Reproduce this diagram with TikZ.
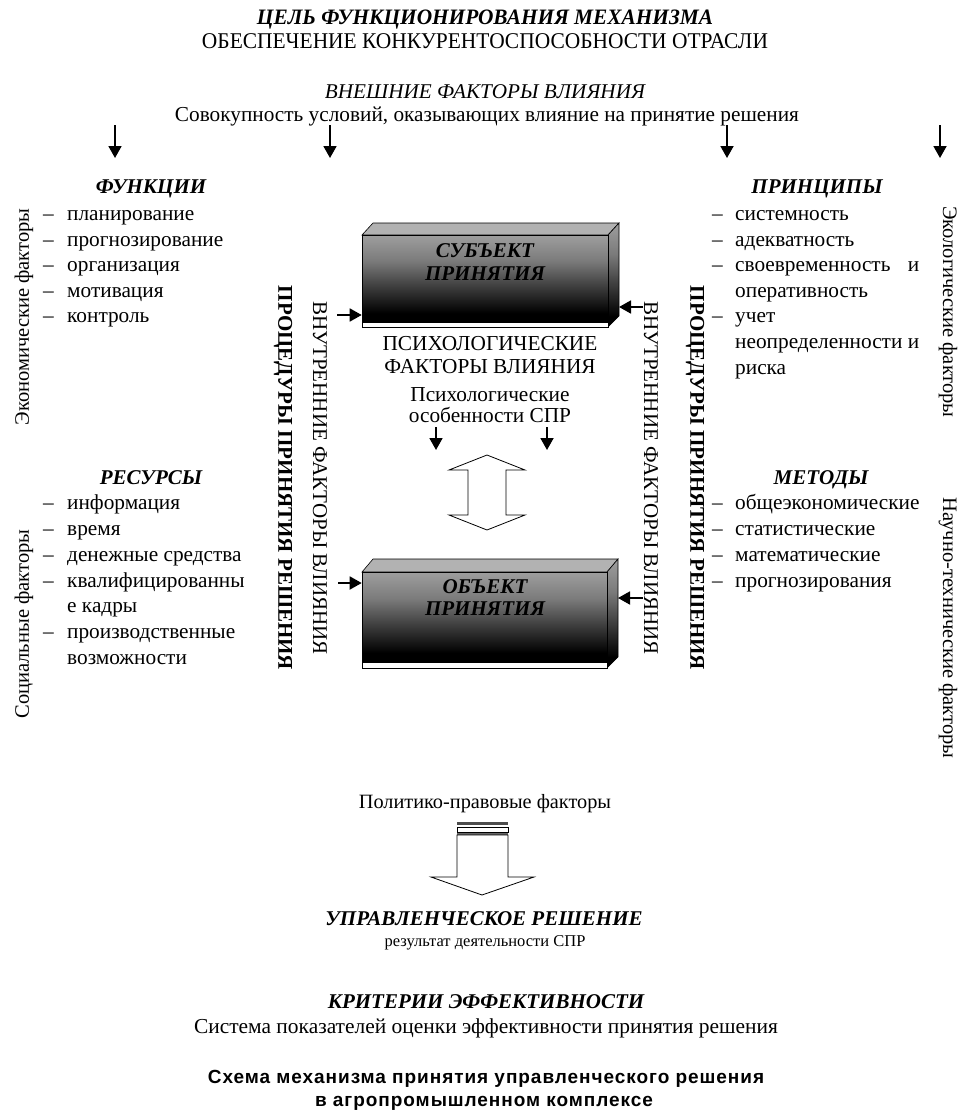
\documentclass[tikz,border=0pt]{standalone}
\usepackage{fontspec}
\usepackage{graphicx}
\setmainfont{Liberation Serif}
\newfontfamily\titlefont[LetterSpace=5]{Liberation Sans}
\usetikzlibrary{arrows.meta}
\pgfdeclareverticalshading{boxshade}{100bp}{color(0bp)=(black); color(30bp)=(black); color(46bp)=(black!75); color(60bp)=(black!52); color(75bp)=(black!38); color(100bp)=(black!38)}
\newcommand\litem[5]{\node[lst] (#1d) at (#2,#4) {–}; \node[lst] (#1) at (#3,#4) {#5};}
\newcommand\lcont[4]{\node[lst] (#1) at (#2,#3) {#4};}
\begin{document}
\begin{tikzpicture}[x=1pt,y=-1pt,
  txt/.style={inner sep=0pt, anchor=base, font=\fontsize{21.3}{25}\selectfont},
  bi/.style={inner sep=0pt, anchor=base, font=\fontsize{21}{25}\selectfont\bfseries\itshape},
  lst/.style={inner sep=0pt, anchor=base west, font=\fontsize{21.3}{25}\selectfont},
  vert/.style={inner sep=0pt, anchor=center, font=\fontsize{20.5}{24}\selectfont},
  arr/.style={line width=1.8pt, -{Triangle[length=12pt,width=13pt]}},
  hollow/.style={draw, line width=0.8pt, fill=white},
  boxfront/.style={draw=black, line width=0.6pt, shading=boxshade, inner sep=0pt, minimum width=246pt}
]
\useasboundingbox (0,0) rectangle (968,1119);

% top texts
\node[bi, font=\fontsize{22}{26}\selectfont\bfseries\itshape] (goal) at (485,24) {\resizebox{456pt}{\height}{ЦЕЛЬ ФУНКЦИОНИРОВАНИЯ МЕХАНИЗМА}};
\node[txt, font=\fontsize{22.5}{26}\selectfont] (goaltxt) at (485,48) {\resizebox{566pt}{\height}{ОБЕСПЕЧЕНИЕ КОНКУРЕНТОСПОСОБНОСТИ ОТРАСЛИ}};
\node[txt, font=\fontsize{21}{24}\selectfont\itshape] (ext) at (485,98) {\resizebox{320pt}{\height}{ВНЕШНИЕ ФАКТОРЫ ВЛИЯНИЯ}};
\node[txt, font=\fontsize{21.3}{24}\selectfont] (exttxt) at (487,121) {\resizebox{624pt}{\height}{Совокупность условий, оказывающих влияние на принятие решения}};

% top arrows
\coordinate (t1s) at (115,125); \coordinate (t1e) at (115,158);
\coordinate (t2s) at (330,125); \coordinate (t2e) at (330,158);
\coordinate (t3s) at (727,125); \coordinate (t3e) at (727,158);
\coordinate (t4s) at (940,125); \coordinate (t4e) at (940,158);
\draw[arr] (t1s) -- (t1e);
\draw[arr] (t2s) -- (t2e);
\draw[arr] (t3s) -- (t3e);
\draw[arr] (t4s) -- (t4e);

% functions
\node[bi] (funh) at (151,193) {ФУНКЦИИ};
\litem{f1}{43}{67}{220.5}{планирование}
\litem{f2}{43}{67}{246}{прогнозирование}
\litem{f3}{43}{67}{271.5}{организация}
\litem{f4}{43}{67}{297}{мотивация}
\litem{f5}{43}{67}{322.5}{контроль}
\node[vert, rotate=90] (econ) at (24,317) {Экономические факторы};

% resources
\node[bi] (resh) at (151,484) {РЕСУРСЫ};
\litem{r1}{43}{67}{509}{информация}
\litem{r2}{43}{67}{535}{время}
\litem{r3}{43}{67}{561}{денежные средства}
\litem{r4}{43}{67}{587}{квалифицированны}
\lcont{r4b}{67}{612}{е кадры}
\litem{r5}{43}{67}{638}{производственные}
\lcont{r5b}{67}{664}{возможности}
\node[vert, rotate=90] (soc) at (24,624) {Социальные факторы};

% principles
\node[bi] (prih) at (817,193) {ПРИНЦИПЫ};
\litem{p1}{712}{735}{220.5}{системность}
\litem{p2}{712}{735}{246}{адекватность}
\litem{p3}{712}{735}{271.5}{\makebox[184pt][s]{своевременность\hfill и}}
\lcont{p3b}{735}{297}{оперативность}
\litem{p4}{712}{735}{322.5}{учет}
\lcont{p4b}{735}{348}{\makebox[184pt][s]{неопределенности\hfill и}}
\lcont{p4c}{735}{374}{риска}
\node[vert, rotate=-90] (ecol) at (948,312) {Экологические факторы};

% methods
\node[bi] (meth) at (821,484) {МЕТОДЫ};
\litem{m1}{712}{735}{509}{общеэкономические}
\litem{m2}{712}{735}{535}{статистические}
\litem{m3}{712}{735}{561}{математические}
\litem{m4}{712}{735}{587}{прогнозирования}
\node[vert, rotate=-90] (scit) at (948,628) {Научно-технические факторы};

% vertical procedure / internal factors
\node[vert, rotate=-90, font=\fontsize{21}{24}\selectfont\bfseries] (procl) at (283,478) {ПРОЦЕДУРЫ ПРИНЯТИЯ РЕШЕНИЯ};
\node[vert, rotate=-90, font=\fontsize{21}{24}\selectfont] (intl) at (320,478) {ВНУТРЕННИЕ ФАКТОРЫ ВЛИЯНИЯ};
\node[vert, rotate=-90, font=\fontsize{21}{24}\selectfont\bfseries] (procr) at (695,478) {ПРОЦЕДУРЫ ПРИНЯТИЯ РЕШЕНИЯ};
\node[vert, rotate=-90, font=\fontsize{21}{24}\selectfont] (intr) at (651,478) {ВНУТРЕННИЕ ФАКТОРЫ ВЛИЯНИЯ};

% subject box
\fill[black!30, draw=black, line width=0.6pt] (362,235) -- (373,223) -- (619,223) -- (608,235) -- cycle;
\shade[shading=boxshade, draw=black, line width=0.6pt] (608,235) -- (619,223) -- (619,316) -- (608,327) -- cycle;
\node[boxfront, minimum height=87pt] (subj) at (485,278.5) {};
\node[draw=black, fill=white, line width=0.6pt, inner sep=0pt, minimum width=246pt, minimum height=5pt] (subjstrip) at (485,324.5) {};
\coordinate (subjside) at (619,280);
\node[bi] (subjt1) at (485,257) {СУБЪЕКТ};
\node[bi] (subjt2) at (485,280) {ПРИНЯТИЯ};
\coordinate (sl) at (337,315);
\coordinate (sr) at (643,307);
\draw[arr] (sl) -- (sl -| subj.west);
\draw[arr] (sr) -- (sr -| subjside);

% psychological factors
\node[txt] (psy1) at (490,350) {ПСИХОЛОГИЧЕСКИЕ};
\node[txt] (psy2) at (490,373) {ФАКТОРЫ ВЛИЯНИЯ};
\node[txt] (psy3) at (490,401) {Психологические};
\node[txt] (psy4) at (490,422) {особенности СПР};
\coordinate (pa1s) at (436,427); \coordinate (pa1e) at (436,450);
\coordinate (pa2s) at (547,427); \coordinate (pa2e) at (547,450);
\draw[arr] (pa1s) -- (pa1e);
\draw[arr] (pa2s) -- (pa2e);

% double hollow arrow
\draw[hollow] (487,455) -- (525,470) -- (506,470) -- (506,515) -- (525,515) -- (487,530) -- (449,515) -- (468,515) -- (468,470) -- (449,470) -- cycle;

% object box
\fill[black!30, draw=black, line width=0.6pt] (362,572) -- (373,559) -- (618,559) -- (607,572) -- cycle;
\shade[shading=boxshade, draw=black, line width=0.6pt] (607,572) -- (618,559) -- (618,657) -- (607,668) -- cycle;
\node[boxfront, minimum width=245pt, minimum height=90pt] (obj) at (484.5,617) {};
\node[draw=black, fill=white, line width=0.6pt, inner sep=0pt, minimum width=245pt, minimum height=6pt] (objstrip) at (484.5,665) {};
\coordinate (objside) at (618,610);
\node[bi] (objt1) at (485,593) {ОБЪЕКТ};
\node[bi] (objt2) at (485,615) {ПРИНЯТИЯ};
\coordinate (ol) at (338,583);
\coordinate (or) at (643,598);
\draw[arr] (ol) -- (ol -| obj.west);
\draw[arr] (or) -- (or -| objside);

% bottom
\node[txt, font=\fontsize{20.3}{24}\selectfont] (pol) at (485,808) {Политико-правовые факторы};
\fill[black!70] (457,822) rectangle (508,825);
\draw[fill=white, line width=0.6pt] (457,827) rectangle (508,832);
\fill[black!60] (457,833) rectangle (508,835);
\draw[hollow] (457,835) -- (508,835) -- (508,877) -- (534,877) -- (482,895) -- (431,877) -- (457,877) -- cycle;

\node[bi, font=\fontsize{21}{24}\selectfont\bfseries\itshape] (dec) at (484,925) {УПРАВЛЕНЧЕСКОЕ РЕШЕНИЕ};
\node[txt, font=\fontsize{16.5}{20}\selectfont] (dectxt) at (485,946) {результат деятельности СПР};
\node[bi] (crit) at (486,1008) {КРИТЕРИИ ЭФФЕКТИВНОСТИ};
\node[txt] (crittxt) at (486,1033) {\resizebox{584pt}{\height}{Система показателей оценки эффективности принятия решения}};

\node[txt, font=\titlefont\bfseries\fontsize{19}{23}\selectfont] (cap1) at (486,1083) {Схема механизма принятия управленческого решения};
\node[txt, font=\titlefont\bfseries\fontsize{19}{23}\selectfont] (cap2) at (484,1106) {в агропромышленном комплексе};
\end{tikzpicture}
\end{document}
